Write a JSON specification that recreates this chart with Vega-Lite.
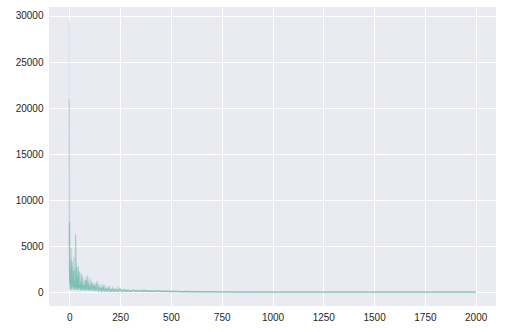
{
  "$schema": "https://vega.github.io/schema/vega-lite/v6.json",
  "width": 447,
  "height": 299,
  "autosize": {"type": "none"},
  "padding": {"left": 49, "top": 7, "right": 22, "bottom": 26},
  "background": "white",
  "config": {
    "view": {"fill": "#EAEAF2", "stroke": null},
    "axis": {
      "domain": false,
      "ticks": false,
      "gridColor": "white",
      "gridWidth": 1,
      "gridOpacity": 1,
      "labelFont": "Liberation Sans",
      "labelFontSize": 10,
      "labelColor": "#262626",
      "title": null
    }
  },
  "data": {
    "values": [
      {"x": 0, "a": 29500, "b": 21000, "c": 5200},
      {"x": 1, "a": 2500, "b": 1800, "c": 7600},
      {"x": 2, "a": 400, "b": 3500, "c": 900},
      {"x": 4, "a": 1200, "b": 300, "c": 2600},
      {"x": 6, "a": 200, "b": 2200, "c": 400},
      {"x": 8, "a": 3800, "b": 500, "c": 1500},
      {"x": 10, "a": 600, "b": 4800, "c": 300},
      {"x": 13, "a": 2900, "b": 800, "c": 3300},
      {"x": 16, "a": 300, "b": 1500, "c": 600},
      {"x": 19, "a": 1800, "b": 200, "c": 2400},
      {"x": 22, "a": 500, "b": 3900, "c": 400},
      {"x": 25, "a": 2400, "b": 600, "c": 1200},
      {"x": 28, "a": 200, "b": 1400, "c": 300},
      {"x": 31, "a": 1100, "b": 300, "c": 6300},
      {"x": 34, "a": 300, "b": 2700, "c": 500},
      {"x": 37, "a": 3100, "b": 400, "c": 1600},
      {"x": 40, "a": 400, "b": 1900, "c": 200},
      {"x": 44, "a": 1500, "b": 300, "c": 2800},
      {"x": 48, "a": 200, "b": 2300, "c": 400},
      {"x": 52, "a": 2200, "b": 500, "c": 900},
      {"x": 56, "a": 300, "b": 1200, "c": 200},
      {"x": 60, "a": 900, "b": 200, "c": 2000},
      {"x": 65, "a": 200, "b": 1700, "c": 300},
      {"x": 70, "a": 1400, "b": 300, "c": 800},
      {"x": 75, "a": 200, "b": 900, "c": 200},
      {"x": 80, "a": 1700, "b": 200, "c": 1300},
      {"x": 85, "a": 300, "b": 1300, "c": 300},
      {"x": 90, "a": 700, "b": 200, "c": 1800},
      {"x": 95, "a": 200, "b": 1000, "c": 200},
      {"x": 100, "a": 1300, "b": 300, "c": 600},
      {"x": 106, "a": 200, "b": 1500, "c": 200},
      {"x": 112, "a": 800, "b": 200, "c": 1100},
      {"x": 118, "a": 200, "b": 700, "c": 200},
      {"x": 124, "a": 1100, "b": 200, "c": 800},
      {"x": 130, "a": 200, "b": 900, "c": 150},
      {"x": 137, "a": 500, "b": 150, "c": 1200},
      {"x": 144, "a": 150, "b": 700, "c": 200},
      {"x": 151, "a": 900, "b": 200, "c": 500},
      {"x": 158, "a": 150, "b": 500, "c": 150},
      {"x": 165, "a": 400, "b": 150, "c": 700},
      {"x": 172, "a": 150, "b": 800, "c": 150},
      {"x": 180, "a": 600, "b": 150, "c": 400},
      {"x": 188, "a": 100, "b": 400, "c": 150},
      {"x": 196, "a": 500, "b": 100, "c": 600},
      {"x": 204, "a": 100, "b": 300, "c": 100},
      {"x": 212, "a": 300, "b": 100, "c": 500},
      {"x": 220, "a": 100, "b": 400, "c": 100},
      {"x": 230, "a": 400, "b": 100, "c": 300},
      {"x": 240, "a": 100, "b": 600, "c": 100},
      {"x": 250, "a": 300, "b": 100, "c": 400},
      {"x": 260, "a": 100, "b": 300, "c": 100},
      {"x": 270, "a": 250, "b": 100, "c": 300},
      {"x": 280, "a": 100, "b": 300, "c": 100},
      {"x": 290, "a": 300, "b": 100, "c": 200},
      {"x": 300, "a": 100, "b": 200, "c": 100},
      {"x": 315, "a": 250, "b": 100, "c": 300},
      {"x": 330, "a": 100, "b": 250, "c": 100},
      {"x": 345, "a": 200, "b": 80, "c": 200},
      {"x": 360, "a": 80, "b": 300, "c": 80},
      {"x": 375, "a": 200, "b": 80, "c": 250},
      {"x": 390, "a": 80, "b": 200, "c": 80},
      {"x": 405, "a": 250, "b": 80, "c": 150},
      {"x": 420, "a": 80, "b": 150, "c": 80},
      {"x": 440, "a": 150, "b": 80, "c": 200},
      {"x": 460, "a": 70, "b": 200, "c": 70},
      {"x": 480, "a": 150, "b": 70, "c": 150},
      {"x": 500, "a": 70, "b": 150, "c": 70},
      {"x": 525, "a": 120, "b": 60, "c": 130},
      {"x": 550, "a": 60, "b": 120, "c": 60},
      {"x": 575, "a": 110, "b": 60, "c": 100},
      {"x": 600, "a": 60, "b": 100, "c": 60},
      {"x": 630, "a": 90, "b": 50, "c": 90},
      {"x": 660, "a": 50, "b": 80, "c": 50},
      {"x": 690, "a": 80, "b": 50, "c": 70},
      {"x": 720, "a": 50, "b": 70, "c": 50},
      {"x": 750, "a": 60, "b": 40, "c": 60},
      {"x": 800, "a": 40, "b": 50, "c": 40},
      {"x": 900, "a": 40, "b": 40, "c": 40},
      {"x": 1000, "a": 35, "b": 35, "c": 35},
      {"x": 1200, "a": 35, "b": 35, "c": 35},
      {"x": 1400, "a": 30, "b": 30, "c": 30},
      {"x": 1600, "a": 30, "b": 30, "c": 30},
      {"x": 1800, "a": 30, "b": 30, "c": 30},
      {"x": 2000, "a": 30, "b": 30, "c": 30}
    ]
  },
  "transform": [{"fold": ["a", "b", "c"], "as": ["s", "v"]}],
  "mark": {"type": "line", "strokeWidth": 1.3, "clip": true},
  "encoding": {
    "x": {
      "field": "x", "type": "quantitative",
      "scale": {"domain": [-100, 2100], "nice": false, "zero": false},
      "axis": {"values": [0, 250, 500, 750, 1000, 1250, 1500, 1750, 2000], "format": "d", "labelPadding": 6}
    },
    "y": {
      "field": "v", "type": "quantitative",
      "scale": {"domain": [-1475, 30975], "nice": false, "zero": false},
      "axis": {"values": [0, 5000, 10000, 15000, 20000, 25000, 30000], "format": "d", "labelPadding": 6}
    },
    "color": {
      "field": "s", "type": "nominal", "legend": null,
      "scale": {"domain": ["a", "b", "c"], "range": ["#7FA3D9", "#5BBF8A", "#3FA896"]}
    },
    "opacity": {
      "field": "s", "type": "nominal", "legend": null,
      "scale": {"domain": ["a", "b", "c"], "range": [0.25, 0.4, 0.45]}
    },
    "detail": {"field": "s"}
  }
}
